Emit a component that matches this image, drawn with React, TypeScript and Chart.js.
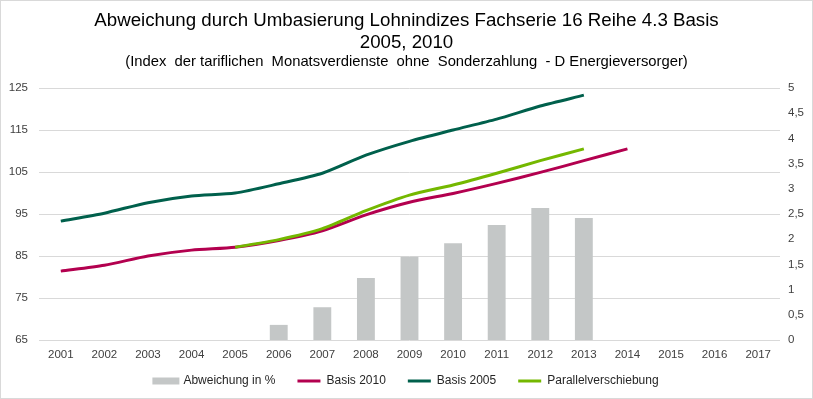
import React, { useEffect, useRef } from "react";
import { Chart, registerables } from "chart.js";

Chart.register(...registerables);

const years = ["2001", "2002", "2003", "2004", "2005", "2006", "2007", "2008", "2009", "2010", "2011", "2012", "2013", "2014", "2015", "2016", "2017"];
const abweichung = [null, null, null, null, null, 0.3, 0.65, 1.23, 1.65, 1.92, 2.28, 2.62, 2.42, null, null, null, null];
const basis2010 = [81.4, 82.8, 85.0, 86.4, 87.1, 88.7, 91.0, 94.8, 97.8, 99.9, 102.3, 104.9, 107.7, 110.5, null, null, null];
const basis2005 = [93.3, 95.2, 97.7, 99.3, 100.0, 102.2, 104.7, 109.0, 112.3, 115.0, 117.6, 120.7, 123.3, null, null, null, null];
const parallel = [null, null, null, null, 87.1, 88.9, 91.5, 95.8, 99.5, 101.9, 104.7, 107.7, 110.5, null, null, null, null];

const titleLines = ["Abweichung durch Umbasierung Lohnindizes Fachserie 16 Reihe 4.3 Basis", "2005, 2010"];
const subtitleText = "(Index  der tariflichen  Monatsverdienste  ohne  Sonderzahlung  - D Energieversorger)";
const seriesNames = ["Abweichung in %", "Basis 2010", "Basis 2005", "Parallelverschiebung"];

const GRAY = "#C4C7C7";
const RED = "#B3004F";
const DGREEN = "#00604C";
const LGREEN = "#74B800";

export default function App() {
  const ref = useRef<HTMLCanvasElement | null>(null);

  useEffect(() => {
    if (!ref.current) return;
    const base = "'Liberation Sans', Arial, sans-serif";

    const bgPlugin = {
      id: "bg",
      beforeDraw(chart: any) {
        const ctx = chart.ctx;
        ctx.save();
        ctx.fillStyle = "#ffffff";
        ctx.fillRect(0, 0, chart.width, chart.height);
        ctx.restore();
      },
      afterLayout(chart: any) {
        const x = chart.scales.x;
        if (x) {
          x.bottom = x.top + 26;
          x.height = 26;
        }
      },
      afterDraw(chart: any) {
        const ctx = chart.ctx;
        ctx.save();
        ctx.strokeStyle = "#D9D9D9";
        ctx.lineWidth = 1;
        ctx.strokeRect(0.5, 0.5, chart.width - 1, chart.height - 1);
        ctx.restore();
      },
    };

    const lineDs = (label: string, data: any, color: string, order: number) => ({
      type: "line",
      label,
      data,
      borderColor: color,
      backgroundColor: color,
      borderWidth: 3,
      pointRadius: 0,
      tension: 0.25,
      yAxisID: "y",
      order,
    });

    const chart = new Chart(ref.current, {
      type: "bar",
      data: {
        labels: years,
        datasets: [
          {
            type: "bar",
            label: seriesNames[0],
            data: abweichung as any,
            backgroundColor: GRAY,
            yAxisID: "y1",
            categoryPercentage: 1,
            barPercentage: 0.41,
            order: 4,
          },
          lineDs(seriesNames[1], basis2010, RED, 3),
          lineDs(seriesNames[2], basis2005, DGREEN, 2),
          lineDs(seriesNames[3], parallel, LGREEN, 1),
        ] as any,
      },
      options: {
        animation: false,
        responsive: false,
        maintainAspectRatio: false,
        devicePixelRatio: 1,
        layout: { padding: { top: 0, left: 0, right: 0, bottom: 2 } },
        scales: {
          x: {
            type: "category",
            offset: true,
            grid: { display: false, drawTicks: false },
            border: { display: false },
            ticks: { color: "#404040", font: { family: base, size: 11.5 }, padding: 8, maxRotation: 0, autoSkip: false },
            afterFit(scale: any) {
              scale.height = 13;
            },
          },
          y: {
            type: "linear",
            position: "left",
            min: 65,
            max: 125,
            ticks: { stepSize: 10, color: "#404040", font: { family: base, size: 11.5 }, padding: 11 },
            grid: { color: "#D9D9D9", lineWidth: 1, drawTicks: false },
            border: { display: false },
            afterFit(scale: any) {
              scale.width = 39;
            },
          },
          y1: {
            type: "linear",
            position: "right",
            min: 0,
            max: 5,
            ticks: {
              stepSize: 0.5,
              color: "#404040",
              font: { family: base, size: 11.5 },
              padding: 8,
              callback: (v: any) => String(v).replace(".", ","),
            },
            grid: { display: false, drawTicks: false },
            border: { display: false },
            afterFit(scale: any) {
              scale.width = 33;
            },
          },
        },
        plugins: {
          title: {
            display: true,
            text: titleLines,
            color: "#000000",
            font: { family: base, size: 18.7, weight: "normal", lineHeight: "22.5px" },
            padding: { top: 9.25, bottom: 0 },
          },
          subtitle: {
            display: true,
            text: subtitleText,
            color: "#000000",
            font: { family: base, size: 14.8, weight: "normal", lineHeight: "14px" },
            padding: { top: 0.75, bottom: 19 },
          },
          legend: {
            display: true,
            position: "bottom",
            labels: {
              boxWidth: 23,
              boxHeight: 3,
              padding: 22,
              color: "#262626",
              font: { family: base, size: 12 },
              generateLabels: (c: any) =>
                c.data.datasets.map((ds: any, i: number) => ({
                  text: ds.label,
                  fillStyle: i === 0 ? GRAY : ds.borderColor,
                  strokeStyle: i === 0 ? GRAY : ds.borderColor,
                  lineWidth: i === 0 ? 4 : 0,
                  hidden: false,
                  datasetIndex: i,
                  fontColor: "#262626",
                })),
            },
          },
          tooltip: { enabled: false },
        },
      } as any,
      plugins: [bgPlugin],
    });

    return () => chart.destroy();
  }, []);

  return (
    <div style={{ position: "absolute", left: 0, top: 0, width: 813, height: 399 }}>
      <canvas ref={ref} width={813} height={399} style={{ display: "block", width: 813, height: 399 }} />
    </div>
  );
}
